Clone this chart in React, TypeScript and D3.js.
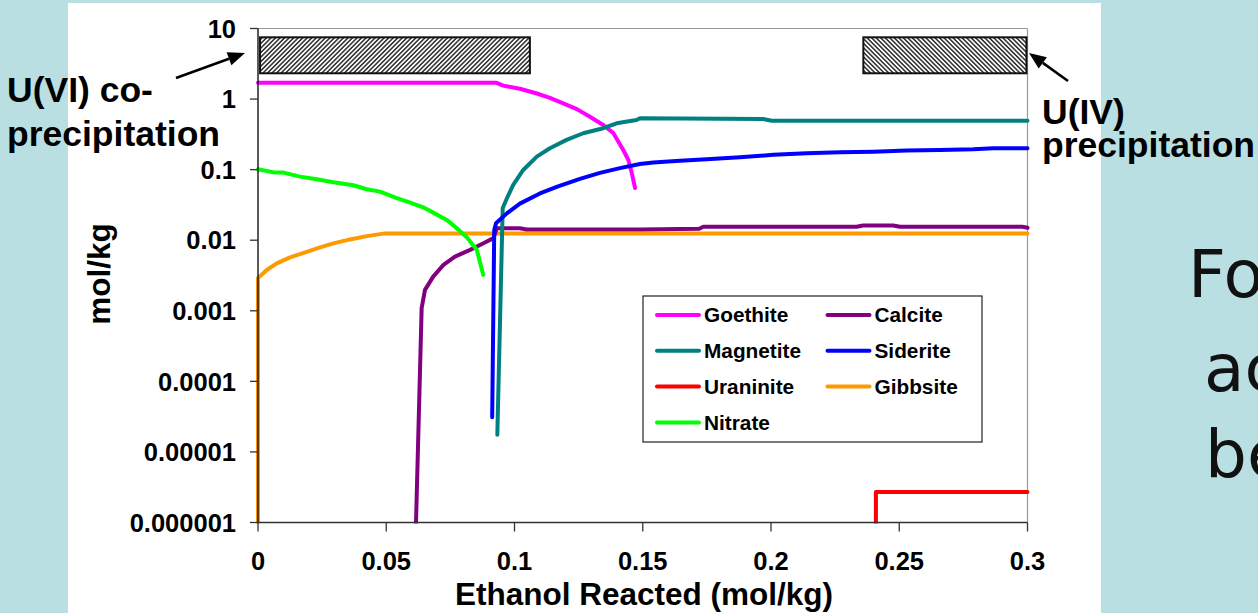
import React from "react";
import * as d3 from "d3";

type P = [number, number];

const xTicks = [0, 0.05, 0.1, 0.15, 0.2, 0.25, 0.3];
const xTickLabels = ["0", "0.05", "0.1", "0.15", "0.2", "0.25", "0.3"];
const yTicks = [10, 1, 0.1, 0.01, 0.001, 0.0001, 0.00001, 0.000001];
const yTickLabels = ["10", "1", "0.1", "0.01", "0.001", "0.0001", "0.00001", "0.000001"];

const goethite: P[] = [[0, 1.7], [0.093, 1.7], [0.0956, 1.55], [0.1021, 1.4], [0.1087, 1.2], [0.1138, 1.04], [0.119, 0.87], [0.1243, 0.72], [0.1294, 0.56], [0.1346, 0.43], [0.1385, 0.33], [0.1424, 0.19], [0.1444, 0.137], [0.1457, 0.09], [0.147, 0.055]];
const magnetite: P[] = [[0.0933, 1.75e-5], [0.0954, 0.0284], [0.097, 0.039], [0.0995, 0.061], [0.1034, 0.099], [0.1087, 0.153], [0.1138, 0.201], [0.1203, 0.264], [0.1268, 0.328], [0.1346, 0.386], [0.1398, 0.454], [0.1476, 0.506], [0.1489, 0.535], [0.1969, 0.522], [0.2003, 0.494], [0.3, 0.494]];
const uraninite: P[] = [[0.2409, 1e-6], [0.2409, 2.7e-6], [0.3, 2.7e-6]];
const nitrate: P[] = [[0, 0.101], [0.0066, 0.0908], [0.0099, 0.0908], [0.0164, 0.0796], [0.0229, 0.0731], [0.0294, 0.0664], [0.0372, 0.0601], [0.0424, 0.0527], [0.0476, 0.0488], [0.0541, 0.0394], [0.0593, 0.0341], [0.0644, 0.0293], [0.0683, 0.0246], [0.0736, 0.0194], [0.0775, 0.0148], [0.0814, 0.011], [0.0853, 0.0073], [0.0878, 0.00323]];
const calcite: P[] = [[0.0616, 1e-6], [0.0638, 0.00109], [0.0651, 0.00198], [0.0683, 0.00305], [0.0723, 0.00447], [0.0768, 0.00586], [0.0827, 0.0073], [0.0879, 0.00906], [0.0918, 0.0107], [0.0931, 0.0148], [0.1021, 0.0148], [0.1047, 0.0142], [0.149, 0.0142], [0.172, 0.0145], [0.1736, 0.0155], [0.2334, 0.0155], [0.2359, 0.0162], [0.2476, 0.0162], [0.2503, 0.0155], [0.298, 0.0155], [0.3, 0.015]];
const siderite: P[] = [[0.0913, 3.1e-5], [0.0921, 0.014], [0.0928, 0.0174], [0.097, 0.024], [0.1021, 0.033], [0.1099, 0.046], [0.117, 0.058], [0.1255, 0.074], [0.1333, 0.09], [0.1411, 0.105], [0.1489, 0.12], [0.1541, 0.126], [0.1645, 0.134], [0.1749, 0.14], [0.1879, 0.15], [0.2009, 0.162], [0.2139, 0.171], [0.2269, 0.176], [0.2399, 0.18], [0.2529, 0.186], [0.2659, 0.19], [0.2789, 0.195], [0.2867, 0.201], [0.3, 0.201]];
const gibbsite: P[] = [[0, 1e-6], [0, 0.0029], [0.0034, 0.00378], [0.0073, 0.00469], [0.0125, 0.0057], [0.019, 0.00685], [0.0242, 0.00791], [0.0294, 0.00902], [0.0359, 0.01026], [0.0424, 0.01143], [0.0495, 0.0125], [0.3, 0.0125]];

const seriesNames = ["Goethite", "Calcite", "Magnetite", "Siderite", "Uraninite", "Gibbsite", "Nitrate"];
const seriesData: Record<string, P[]> = {
  Goethite: goethite, Calcite: calcite, Magnetite: magnetite, Siderite: siderite,
  Uraninite: uraninite, Gibbsite: gibbsite, Nitrate: nitrate,
};
const seriesColors: Record<string, string> = {
  Goethite: "#FF00FF", Calcite: "#800080", Magnetite: "#008080", Siderite: "#0000FF",
  Uraninite: "#FF0000", Gibbsite: "#FF9900", Nitrate: "#00FF00",
};
const drawOrder = ["Gibbsite", "Calcite", "Uraninite", "Goethite", "Magnetite", "Siderite", "Nitrate"];

// hatched precipitation zones (data space)
const zoneX0 = [0.0008, 0.236];
const zoneX1 = [0.106, 0.2996];
const zoneYLow = 2.32;
const zoneYHigh = 7.5;

const FONT = "'Liberation Sans', Arial, sans-serif";

function Arrow({ x1, y1, x2, y2 }: { x1: number; y1: number; x2: number; y2: number }) {
  const ang = Math.atan2(y2 - y1, x2 - x1);
  const L = 17, W = 7;
  const bx = x2 - L * Math.cos(ang), by = y2 - L * Math.sin(ang);
  const nx = -Math.sin(ang), ny = Math.cos(ang);
  const pts = `${x2},${y2} ${bx + nx * W},${by + ny * W} ${bx - nx * W},${by - ny * W}`;
  return (
    <g>
      <line x1={x1} y1={y1} x2={bx} y2={by} stroke="#000" strokeWidth={2.6} />
      <polygon points={pts} fill="#000" />
    </g>
  );
}

export default function App() {
  const left = 258, right = 1027.5, top = 28.5, bottom = 522.5;
  const x = d3.scaleLinear().domain([0, 0.3]).range([left, right]);
  const y = d3.scaleLog().domain([1e-6, 10]).range([bottom, top]);
  const line = d3.line<P>().x((d) => x(d[0])).y((d) => y(d[1]));

  const legX = 643, legY = 296, legW = 339, legH = 146;
  const rowH = 35.8;

  return (
    <svg width={1258} height={613} style={{ position: "absolute", left: 0, top: 0 }} fontFamily={FONT}>
      <defs>
        <pattern id="hatchF" patternUnits="userSpaceOnUse" width={3.2} height={3.2} patternTransform="rotate(45)">
          <rect width={3.2} height={3.2} fill="#fff" />
          <line x1={0.8} y1={0} x2={0.8} y2={3.2} stroke="#2a2a2a" strokeWidth={1.5} />
        </pattern>
        <pattern id="hatchB" patternUnits="userSpaceOnUse" width={3.2} height={3.2} patternTransform="rotate(-45)">
          <rect width={3.2} height={3.2} fill="#fff" />
          <line x1={0.8} y1={0} x2={0.8} y2={3.2} stroke="#2a2a2a" strokeWidth={1.5} />
        </pattern>
        <clipPath id="plotClip">
          <rect x={left - 3} y={top} width={right - left + 6} height={bottom - top + 1} />
        </clipPath>
      </defs>

      <rect x={0} y={0} width={1258} height={613} fill="#BADFE3" />
      <rect x={68} y={3} width={1033} height={610} fill="#fff" />

      {/* slide text on the right */}
      <g fontFamily="'DejaVu Sans', 'Noto Sans', sans-serif" fontSize={66} fill="#111">
        <text x={1188} y={297}>Fo</text>
        <text x={1204} y={391}>ac</text>
        <text x={1205} y={477}>be</text>
      </g>

      {/* plot frame */}
      <line x1={left} y1={top} x2={right} y2={top} stroke="#999" strokeWidth={1.2} />
      <line x1={right} y1={top} x2={right} y2={bottom} stroke="#999" strokeWidth={1.2} />

      {/* hatched boxes */}
      {zoneX0.map((x0, i) => (
        <rect key={i} x={x(x0)} y={y(zoneYHigh)} width={x(zoneX1[i]) - x(x0)} height={y(zoneYLow) - y(zoneYHigh)}
          fill={i === 0 ? "url(#hatchF)" : "url(#hatchB)"} stroke="#111" strokeWidth={2} />
      ))}

      {/* series */}
      <g clipPath="url(#plotClip)">
        {drawOrder.map((name) => (
          <path key={name} d={line(seriesData[name]) || ""} fill="none" stroke={seriesColors[name]}
            strokeWidth={4} strokeLinejoin="round" strokeLinecap="round" />
        ))}
      </g>

      {/* axes */}
      <line x1={left} y1={top} x2={left} y2={bottom} stroke="#000" strokeWidth={1.3} />
      <line x1={left} y1={bottom} x2={right} y2={bottom} stroke="#333" strokeWidth={1.3} />
      {yTicks.map((t, i) => (
        <g key={t}>
          <line x1={left - 8} x2={left} y1={y(t)} y2={y(t)} stroke="#333" strokeWidth={1.3} />
          <text x={236} y={y(t)} dy="0.36em" textAnchor="end" fontSize={25.5} fontWeight="bold" fill="#000">{yTickLabels[i]}</text>
        </g>
      ))}
      {xTicks.map((t, i) => (
        <g key={t}>
          <line x1={x(t)} x2={x(t)} y1={bottom} y2={bottom + 9} stroke="#333" strokeWidth={1.3} />
          <text x={x(t)} y={569.5} textAnchor="middle" fontSize={25.5} fontWeight="bold" fill="#000">{xTickLabels[i]}</text>
        </g>
      ))}
      <text x={644} y={605} textAnchor="middle" fontSize={31.5} fontWeight="bold" fill="#000">Ethanol Reacted (mol/kg)</text>
      <text transform="translate(110,274) rotate(-90)" textAnchor="middle" fontSize={31.5} fontWeight="bold" fill="#000">mol/kg</text>

      {/* legend */}
      <rect x={legX} y={legY} width={legW} height={legH} fill="#fff" stroke="#222" strokeWidth={1.2} />
      {seriesNames.map((name, i) => {
        const col = i % 2, row = Math.floor(i / 2);
        const lx = col === 0 ? 657 : 827.5;
        const ly = 315 + row * rowH;
        return (
          <g key={name}>
            <line x1={lx} x2={lx + 42} y1={ly} y2={ly} stroke={seriesColors[name]} strokeWidth={4} strokeLinecap="round" />
            <text x={lx + 47} y={ly} dy="0.36em" fontSize={20.8} fontWeight="bold" fill="#000">{name}</text>
          </g>
        );
      })}

      {/* annotations */}
      <g fontSize={35.5} fontWeight="bold" fill="#000">
        <text x={7} y={102}>U(VI) co-</text>
        <text x={7} y={146}>precipitation</text>
        <text x={1042} y={123.5}>U(IV)</text>
        <text x={1042} y={157}>precipitation</text>
      </g>
      <Arrow x1={176} y1={78} x2={245} y2={53} />
      <Arrow x1={1068} y1={81} x2={1029} y2={53} />
    </svg>
  );
}
